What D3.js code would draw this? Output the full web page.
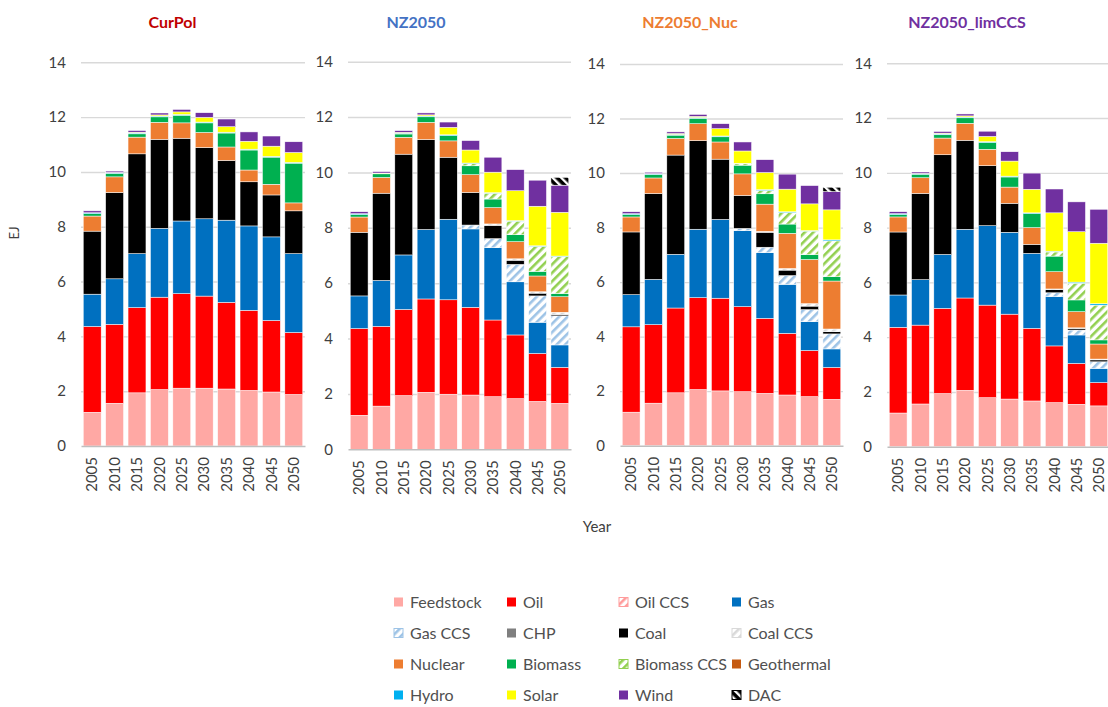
<!DOCTYPE html>
<html><head><meta charset="utf-8">
<script src="https://cdn.jsdelivr.net/npm/d3@7"></script>
<style>body{margin:0;background:#fff;} svg{display:block;font-family:Lato,"Open Sans",sans-serif;}</style>
</head><body><svg id="chart" width="1108" height="707"></svg>
<script>
// ---------------- DATA ----------------
const years = [2005, 2010, 2015, 2020, 2025, 2030, 2035, 2040, 2045, 2050];
const seriesNames = ["Feedstock","Oil","Oil CCS","Gas","Gas CCS","CHP","Coal","Coal CCS",
  "Nuclear","Biomass","Biomass CCS","Geothermal","Hydro","Solar","Wind","DAC"];
const seriesColors = ["#FFA8A4","#FF0000","#FF9C9C","#0070C0","#9DC3E6","#7F7F7F","#000000","#D9D9D9",
  "#ED7D31","#00B050","#92D050","#C55A11","#00B0F0","#FFFF00","#7030A0","#000000"];
const hatchedSeries = ["Oil CCS","Gas CCS","Coal CCS","Biomass CCS","DAC"];
const scenarioNames = ["CurPol","NZ2050","NZ2050_Nuc","NZ2050_limCCS"];
const scenarioTitleColors = ["#C00000","#4472C4","#ED7D31","#7030A0"];
const yTicks = [0, 2, 4, 6, 8, 10, 12, 14];

// rows follow seriesNames order, columns follow years (EJ)
const curPol = [
  [1.23,1.56,1.94,2.06,2.11,2.11,2.08,2.03,1.97,1.88], // Feedstock
  [3.13,2.88,3.11,3.37,3.45,3.36,3.16,2.92,2.61,2.26], // Oil
  [0,0,0,0,0,0,0,0,0,0],                               // Oil CCS
  [1.18,1.66,1.97,2.51,2.65,2.82,3.00,3.08,3.05,2.88], // Gas
  [0,0,0,0,0,0,0,0,0,0],                               // Gas CCS
  [0,0,0,0,0,0,0,0,0,0],                               // CHP
  [2.30,3.15,3.64,3.25,3.02,2.60,2.18,1.61,1.53,1.56], // Coal
  [0,0,0,0,0,0,0,0,0,0],                               // Coal CCS
  [0.55,0.57,0.61,0.62,0.56,0.55,0.49,0.43,0.39,0.29], // Nuclear
  [0.09,0.13,0.12,0.20,0.28,0.35,0.51,0.73,0.99,1.45], // Biomass
  [0,0,0,0,0,0,0,0,0,0],                               // Biomass CCS
  [0,0,0,0,0,0,0,0,0,0],                               // Geothermal
  [0.03,0.02,0.03,0.03,0.03,0.03,0.03,0.03,0.03,0.03], // Hydro
  [0.00,0.01,0.03,0.04,0.09,0.17,0.20,0.29,0.37,0.36], // Solar
  [0.07,0.05,0.06,0.07,0.09,0.17,0.28,0.34,0.37,0.39], // Wind
  [0,0,0,0,0,0,0,0,0,0]                                // DAC
];
const nz2050 = [
  [1.23,1.56,1.94,2.06,1.99,1.96,1.90,1.83,1.73,1.66],
  [3.13,2.88,3.11,3.37,3.41,3.17,2.77,2.30,1.73,1.30],
  [0,0,0,0,0,0,0,0,0,0],
  [1.18,1.66,1.97,2.51,2.91,2.83,2.61,1.92,1.13,0.81],
  [0,0,0,0,0,0.14,0.33,0.63,0.95,1.05],
  [0,0,0,0,0,0,0,0,0,0],
  [2.30,3.15,3.64,3.25,2.24,1.18,0.48,0.15,0.10,0.05],
  [0,0,0,0,0,0,0.05,0.05,0.05,0.08],
  [0.55,0.57,0.61,0.62,0.59,0.64,0.59,0.62,0.57,0.56],
  [0.09,0.13,0.12,0.20,0.19,0.32,0.31,0.25,0.17,0.12],
  [0,0,0,0,0,0.08,0.21,0.49,0.90,1.33],
  [0,0,0,0,0,0,0,0,0,0],
  [0.03,0.02,0.03,0.03,0.03,0.02,0.02,0.02,0.02,0.02],
  [0.00,0.01,0.03,0.04,0.27,0.47,0.74,1.08,1.43,1.58],
  [0.07,0.05,0.06,0.07,0.19,0.34,0.54,0.76,0.94,0.98],
  [0,0,0,0,0,0,0,0,0,0.28]
];
const nz2050Nuc = [
  [1.23,1.56,1.94,2.06,2.01,1.98,1.92,1.86,1.80,1.70],
  [3.13,2.88,3.11,3.37,3.40,3.12,2.75,2.26,1.69,1.17],
  [0,0,0,0,0,0,0,0,0,0],
  [1.18,1.66,1.97,2.51,2.89,2.79,2.41,1.80,1.06,0.68],
  [0,0,0,0,0,0.08,0.20,0.32,0.44,0.55],
  [0,0,0,0,0,0,0,0,0,0],
  [2.30,3.15,3.64,3.25,2.21,1.21,0.55,0.20,0.13,0.08],
  [0,0,0,0,0,0,0.03,0.06,0.09,0.10],
  [0.55,0.57,0.61,0.62,0.63,0.79,1.00,1.29,1.62,1.76],
  [0.09,0.13,0.12,0.20,0.19,0.32,0.38,0.34,0.18,0.16],
  [0,0,0,0,0,0.05,0.12,0.42,0.86,1.31],
  [0,0,0,0,0,0,0,0,0,0],
  [0.03,0.02,0.03,0.03,0.03,0.02,0.03,0.03,0.02,0.04],
  [0.00,0.01,0.03,0.04,0.27,0.45,0.63,0.83,0.98,1.10],
  [0.07,0.05,0.06,0.07,0.18,0.33,0.47,0.55,0.67,0.67],
  [0,0,0,0,0,0,0,0,0,0.16]
];
const nz2050LimCCS = [
  [1.23,1.56,1.94,2.06,1.79,1.74,1.67,1.61,1.55,1.49],
  [3.13,2.88,3.11,3.37,3.38,3.10,2.65,2.07,1.49,0.85],
  [0,0,0,0,0,0,0,0,0,0],
  [1.18,1.66,1.97,2.51,2.90,2.99,2.74,1.80,1.04,0.52],
  [0,0,0,0,0,0,0,0.14,0.18,0.24],
  [0,0,0,0,0,0,0,0,0,0],
  [2.30,3.15,3.64,3.25,2.19,1.06,0.33,0.12,0.06,0.07],
  [0,0,0,0,0,0,0,0.02,0.02,0.03],
  [0.55,0.57,0.61,0.62,0.60,0.59,0.61,0.63,0.59,0.55],
  [0.09,0.13,0.12,0.20,0.25,0.37,0.51,0.57,0.43,0.15],
  [0,0,0,0,0,0,0,0.15,0.61,1.27],
  [0,0,0,0,0,0,0,0,0,0],
  [0.03,0.02,0.03,0.03,0.03,0.03,0.03,0.03,0.04,0.05],
  [0.00,0.01,0.03,0.04,0.19,0.55,0.86,1.40,1.84,2.21],
  [0.07,0.05,0.06,0.07,0.19,0.34,0.59,0.87,1.09,1.24],
  [0,0,0,0,0,0,0,0,0,0]
];
const scenarioValues = [curPol, nz2050, nz2050Nuc, nz2050LimCCS];

// ---------------- LAYOUT ----------------
const panels = [
  {x0: 81,  x1: 305,  yZero: 446.0, yTop: 62.3, titleX: 172.5},
  {x0: 348, x1: 571,  yZero: 449.3, yTop: 61.7, titleX: 416},
  {x0: 620, x1: 843,  yZero: 445.7, yTop: 64.0, titleX: 690},
  {x0: 887, x1: 1110, yZero: 446.7, yTop: 63.3, titleX: 967}
];

const svg = d3.select("#chart");
svg.append("rect").attr("width",1108).attr("height",707).attr("fill","#fff");
const defs = svg.append("defs");

function fillFor(name, i) {
  if (!hatchedSeries.includes(name)) return seriesColors[i];
  return `url(#hatch${i})`;
}
seriesNames.forEach((name, i) => {
  if (!hatchedSeries.includes(name)) return;
  const isDac = name === "DAC";
  const p = defs.append("pattern").attr("id", "hatch" + i)
    .attr("patternUnits", "userSpaceOnUse").attr("width", 6).attr("height", 6)
    .attr("patternTransform", `rotate(${isDac ? -45 : 45})`);
  p.append("rect").attr("width", 6).attr("height", 6).attr("fill", isDac ? "#000" : "#fff");
  p.append("rect").attr("width", isDac ? 2.4 : 2.6).attr("height", 6)
    .attr("fill", isDac ? "#fff" : seriesColors[i]);
});

const stack = d3.stack().keys(seriesNames);

panels.forEach((pn, k) => {
  const vals = scenarioValues[k];
  const rows = years.map((yr, j) => {
    const o = {year: yr};
    seriesNames.forEach((s, i) => o[s] = vals[i][j]);
    return o;
  });
  const x = d3.scaleBand().domain(years).range([pn.x0, pn.x1]).paddingInner(0.2).paddingOuter(0.1);
  const y = d3.scaleLinear().domain([0, 14]).range([pn.yZero, pn.yTop]);
  const g = svg.append("g");

  // grid + y axis
  const ya = g.append("g").attr("transform", `translate(${pn.x0},0)`)
    .call(d3.axisLeft(y).tickValues(yTicks).tickSize(-(pn.x1 - pn.x0)).tickPadding(15));
  ya.select(".domain").remove();
  ya.selectAll(".tick line").attr("stroke", "#D9D9D9").attr("stroke-width", 1.4)
    .filter(d => d === 0).remove();
  ya.selectAll(".tick text").attr("fill", "#404040").style("font-size", "15px")
    .style("font-family", "Lato");

  // bars
  const layers = stack(rows);
  layers.forEach((layer, i) => {
    g.append("g").selectAll("rect")
      .data(layer.filter(d => d[1] - d[0] > 0))
      .join("rect")
      .attr("x", d => x(d.data.year))
      .attr("width", x.bandwidth())
      .attr("y", d => y(d[1]))
      .attr("height", d => y(d[0]) - y(d[1]))
      .attr("fill", fillFor(seriesNames[i], i))
      .attr("stroke", "#fff").attr("stroke-width", 0.5);
  });

  // x axis
  const xa = g.append("g").attr("transform", `translate(0,${pn.yZero})`)
    .call(d3.axisBottom(x).tickSize(0).tickSizeOuter(0).tickPadding(0));
  xa.select(".domain").attr("stroke", "#BFBFBF").attr("stroke-width", 1.4);
  xa.selectAll(".tick text")
    .attr("transform", "rotate(-90)")
    .attr("text-anchor", "end")
    .attr("x", -11).attr("y", 0).attr("dy", "0.35em")
    .attr("fill", "#404040").style("font-size", "15px").style("font-family", "Lato");

  // title
  svg.append("text").attr("x", pn.titleX).attr("y", 28).attr("text-anchor", "middle")
    .attr("fill", scenarioTitleColors[k]).style("font-size", "16px").style("font-weight", "bold")
    .text(scenarioNames[k]);
});

// axis titles
svg.append("text").attr("transform", "translate(19,233) rotate(-90)").attr("text-anchor", "middle")
  .attr("fill", "#404040").style("font-size", "13px").text("EJ");
svg.append("text").attr("x", 597).attr("y", 532).attr("text-anchor", "middle")
  .attr("fill", "#404040").style("font-size", "15px").text("Year");

// legend
const legCols = [394, 507, 619, 732];
const legRows = [602, 633, 664, 695];
seriesNames.forEach((name, i) => {
  const cx = legCols[i % 4], cy = legRows[Math.floor(i / 4)];
  const hatched = hatchedSeries.includes(name);
  svg.append("rect").attr("x", cx).attr("y", cy - 4.5).attr("width", 9).attr("height", 9)
    .attr("fill", fillFor(name, i))
    .attr("stroke", hatched ? (name === "DAC" ? "#000" : seriesColors[i]) : "none")
    .attr("stroke-width", 1);
  svg.append("text").attr("x", cx + 16).attr("y", cy).attr("dy", "0.35em")
    .attr("fill", "#505050").style("font-size", "16px").text(name);
});
</script></body></html>
